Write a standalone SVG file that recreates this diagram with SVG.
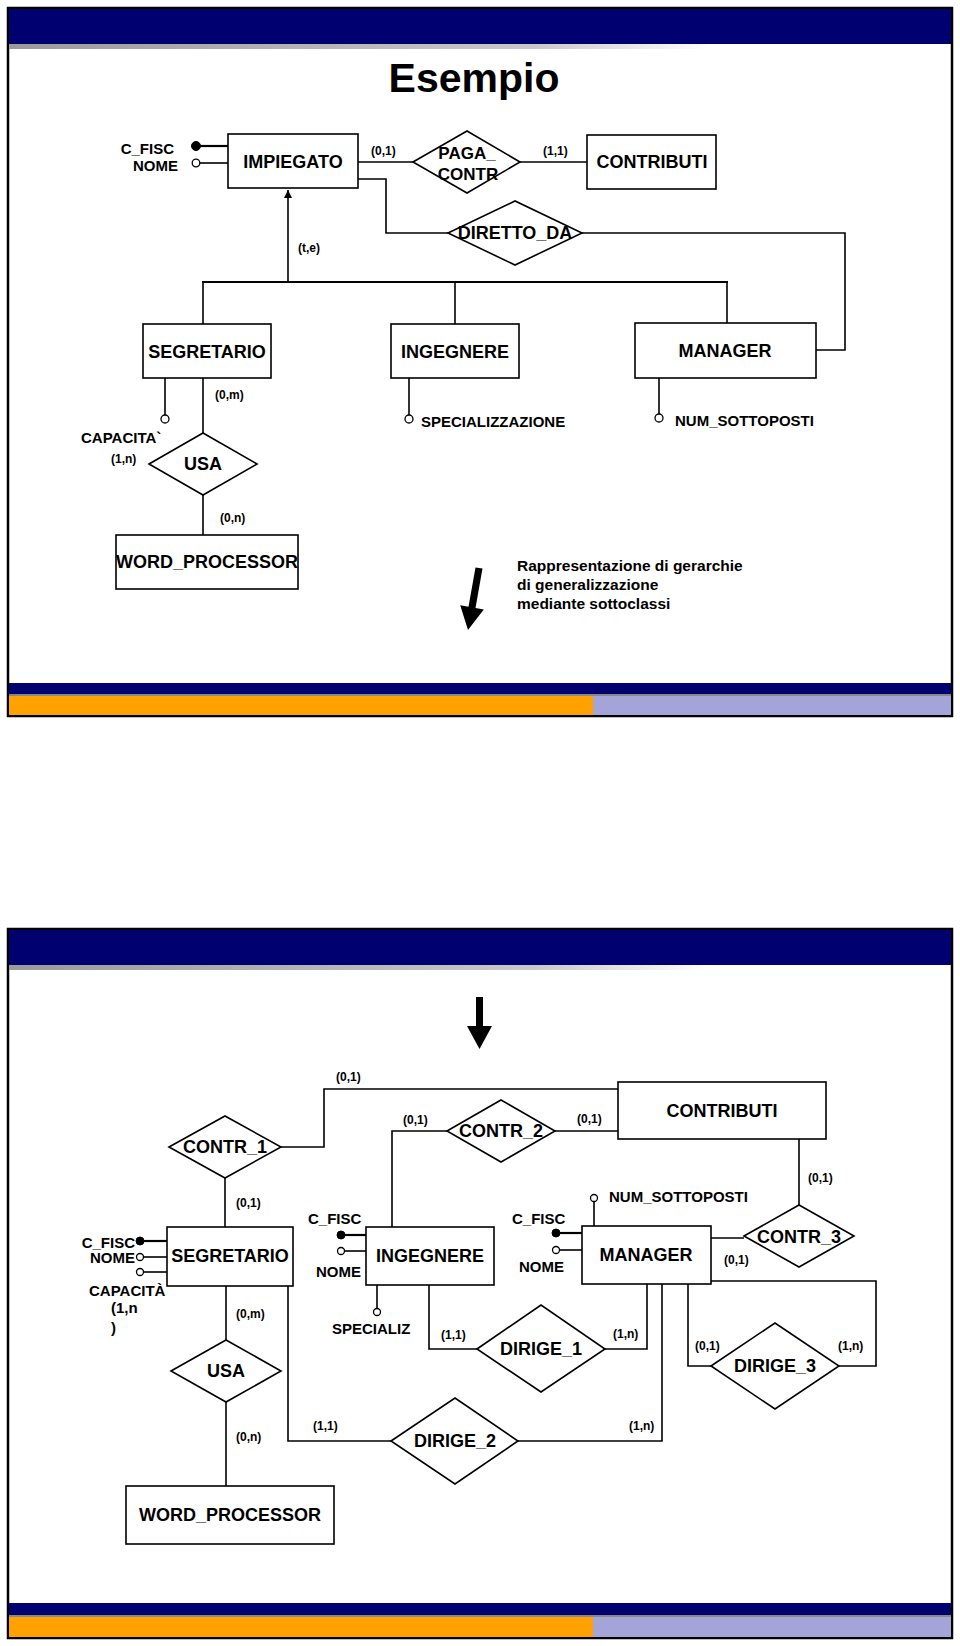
<svg xmlns="http://www.w3.org/2000/svg" width="960" height="1646" viewBox="0 0 960 1646">
<defs>
<style>
.frame{fill:#fff;stroke:#000;stroke-width:2.5}
.navy{fill:#000070}
.orange{fill:#ffa200}
.lav{fill:#a4a4d8}
.ent{fill:#fff;stroke:#000;stroke-width:1.6}
.rel{fill:#fff;stroke:#000;stroke-width:1.6}
.ln{fill:none;stroke:#000;stroke-width:1.6}
.lnb{fill:none;stroke:#000;stroke-width:2.2}
.dot{fill:#000;stroke:#000;stroke-width:1}
.hol{fill:#fff;stroke:#000;stroke-width:1.3}
text{font-family:"Liberation Sans",Arial,sans-serif;font-weight:bold;fill:#000}
.e{font-size:18px;text-anchor:middle}
.a{font-size:15px}
.c{font-size:12px}
.m{text-anchor:middle}
.r{text-anchor:end}
</style>
<linearGradient id="sh" x1="0" y1="0" x2="1" y2="0">
<stop offset="0" stop-color="#9a9a9a"/>
<stop offset="0.75" stop-color="#c8c8c8"/>
<stop offset="1" stop-color="#ffffff"/>
</linearGradient>
<marker id="ah" markerWidth="8" markerHeight="10" refX="8" refY="4" orient="auto" markerUnits="userSpaceOnUse">
<path d="M0,0 L8,4 L0,8 z" fill="#000"/>
</marker>
</defs>

<!-- ===== Slide 1 ===== -->
<g id="slide1-frame">
<rect class="frame" x="8" y="8" width="944" height="708"/>
<rect class="navy" x="9" y="9" width="942" height="35"/>
<rect x="9" y="44" width="700" height="5" fill="url(#sh)"/>
<rect class="navy" x="9" y="683" width="942" height="11"/>
<rect x="9" y="694" width="942" height="2" fill="#888"/>
<rect class="orange" x="9" y="696" width="584" height="19"/>
<rect class="lav" x="593" y="696" width="358" height="19"/>
<text x="474" y="92" font-size="41" class="m">Esempio</text>
</g>

<g id="s1-connectors">
<line class="ln" x1="358" y1="162" x2="413" y2="162"/>
<line class="ln" x1="520" y1="162" x2="587" y2="162"/>
<polyline class="ln" points="358,179 386,179 386,233 448,233"/>
<polyline class="ln" points="582,233 845,233 845,350 816,350"/>
<line class="ln" x1="288" y1="282" x2="288" y2="190" marker-end="url(#ah)"/>
<line class="lnb" x1="202" y1="282" x2="728" y2="282"/>
<line class="ln" x1="203" y1="282" x2="203" y2="324"/>
<line class="ln" x1="455" y1="282" x2="455" y2="324"/>
<line class="ln" x1="727" y1="282" x2="727" y2="323"/>
<line class="ln" x1="203" y1="378" x2="203" y2="433"/>
<line class="ln" x1="203" y1="495" x2="203" y2="535"/>
<text class="c" x="371" y="155">(0,1)</text>
<text class="c" x="543" y="155">(1,1)</text>
<text class="c" x="298" y="252">(t,e)</text>
<text class="c" x="215" y="399">(0,m)</text>
<text class="c" x="111" y="463">(1,n)</text>
<text class="c" x="220" y="522">(0,n)</text>
</g>

<g id="s1-impiegato">
<rect class="ent" x="228" y="134" width="130" height="54"/>
<text class="e" x="293" y="168">IMPIEGATO</text>
<line class="lnb" x1="200" y1="146" x2="228" y2="146"/>
<circle class="dot" cx="196" cy="146" r="4.5"/>
<line class="ln" x1="200" y1="163" x2="228" y2="163"/>
<circle class="hol" cx="196" cy="163" r="3.8"/>
<text class="a r" x="174" y="154">C_FISC</text>
<text class="a r" x="178" y="171">NOME</text>
</g>

<g id="s1-paga-contr">
<polygon class="rel" points="413,162 467,131 520,162 467,193"/>
<text x="467" y="159" font-size="17" class="m">PAGA_</text>
<text x="468" y="180" font-size="17" class="m">CONTR</text>
</g>

<g id="s1-contributi">
<rect class="ent" x="587" y="135" width="129" height="54"/>
<text class="e" x="652" y="168">CONTRIBUTI</text>
</g>

<g id="s1-diretto-da">
<polygon class="rel" points="448,233 515,201 582,233 515,265"/>
<text class="e" x="515" y="239">DIRETTO_DA</text>
</g>

<g id="s1-segretario">
<rect class="ent" x="143" y="324" width="128" height="54"/>
<text class="e" x="207" y="358">SEGRETARIO</text>
<line class="ln" x1="165" y1="378" x2="165" y2="415"/>
<circle class="hol" cx="165" cy="419" r="4"/>
<text class="a" x="81" y="443">CAPACITA`</text>
</g>

<g id="s1-ingegnere">
<rect class="ent" x="391" y="324" width="128" height="54"/>
<text class="e" x="455" y="358">INGEGNERE</text>
<line class="ln" x1="409" y1="378" x2="409" y2="415"/>
<circle class="hol" cx="409" cy="419" r="4"/>
<text class="a" x="421" y="427">SPECIALIZZAZIONE</text>
</g>

<g id="s1-manager">
<rect class="ent" x="635" y="323" width="181" height="55"/>
<text class="e" x="725" y="357">MANAGER</text>
<line class="ln" x1="659" y1="378" x2="659" y2="414"/>
<circle class="hol" cx="659" cy="418" r="4"/>
<text class="a" x="675" y="426">NUM_SOTTOPOSTI</text>
</g>

<g id="s1-usa">
<polygon class="rel" points="149,464 203,433 257,464 203,495"/>
<text class="e" x="203" y="470">USA</text>
</g>

<g id="s1-word-processor">
<rect class="ent" x="116" y="535" width="182" height="54"/>
<text class="e" x="207" y="568">WORD_PROCESSOR</text>
</g>

<g id="s1-note">
<polygon points="475.5,567.4 482.5,568.6 475.5,607.9 483.8,609.4 468,630 460.2,605.2 468.5,606.7" fill="#000"/>
<text x="517" y="571" font-size="15.5">Rappresentazione di gerarchie</text>
<text x="517" y="590" font-size="15.5">di generalizzazione</text>
<text x="517" y="609" font-size="15.5">mediante sottoclassi</text>
</g>

<!-- ===== Slide 2 ===== -->
<g id="slide2-frame">
<rect class="frame" x="8" y="929" width="944" height="709"/>
<rect class="navy" x="9" y="930" width="942" height="35"/>
<rect x="9" y="965" width="700" height="5" fill="url(#sh)"/>
<rect class="navy" x="9" y="1603" width="942" height="12"/>
<rect x="9" y="1615" width="942" height="2" fill="#888"/>
<rect class="orange" x="9" y="1617" width="584" height="20"/>
<rect class="lav" x="593" y="1617" width="358" height="20"/>
<rect x="476" y="997" width="7" height="30" fill="#000"/>
<polygon points="467,1026 492,1026 479.5,1049" fill="#000"/>
</g>

<g id="s2-connectors">
<polyline class="ln" points="281,1147 324,1147 324,1089 618,1089"/>
<line class="ln" x1="555" y1="1131" x2="618" y2="1131"/>
<polyline class="ln" points="447,1131 392,1131 392,1227"/>
<line class="ln" x1="799" y1="1139" x2="799" y2="1205"/>
<line class="ln" x1="711" y1="1238" x2="744" y2="1238"/>
<line class="ln" x1="225" y1="1178" x2="225" y2="1227"/>
<line class="ln" x1="226" y1="1286" x2="226" y2="1340"/>
<line class="ln" x1="226" y1="1402" x2="226" y2="1486"/>
<polyline class="ln" points="288,1286 288,1441 391,1441"/>
<polyline class="ln" points="518,1441 662,1441 662,1284"/>
<polyline class="ln" points="429,1285 429,1349 477,1349"/>
<polyline class="ln" points="605,1349 647,1349 647,1284"/>
<polyline class="ln" points="688,1284 688,1366 711,1366"/>
<polyline class="ln" points="711,1281 876,1281 876,1366 839,1366"/>
<text class="c" x="336" y="1081">(0,1)</text>
<text class="c" x="577" y="1123">(0,1)</text>
<text class="c" x="403" y="1124">(0,1)</text>
<text class="c" x="808" y="1182">(0,1)</text>
<text class="c" x="724" y="1264">(0,1)</text>
<text class="c" x="236" y="1207">(0,1)</text>
<text class="c" x="236" y="1318">(0,m)</text>
<text class="c" x="236" y="1441">(0,n)</text>
<text class="c" x="313" y="1430">(1,1)</text>
<text class="c" x="629" y="1430">(1,n)</text>
<text class="c" x="441" y="1339">(1,1)</text>
<text class="c" x="613" y="1338">(1,n)</text>
<text class="c" x="695" y="1350">(0,1)</text>
<text class="c" x="838" y="1350">(1,n)</text>
<text class="a" x="111" y="1313">(1,n</text>
<text class="a" x="111" y="1333">)</text>
</g>

<g id="s2-contr-1">
<polygon class="rel" points="169,1147 225,1116 281,1147 225,1178"/>
<text class="e" x="225" y="1153">CONTR_1</text>
</g>

<g id="s2-contributi">
<rect class="ent" x="618" y="1082" width="208" height="57"/>
<text class="e" x="722" y="1117">CONTRIBUTI</text>
</g>

<g id="s2-contr-2">
<polygon class="rel" points="447,1131 501,1100 555,1131 501,1162"/>
<text class="e" x="501" y="1137">CONTR_2</text>
</g>

<g id="s2-contr-3">
<polygon class="rel" points="744,1236 799,1205 854,1236 799,1267"/>
<text class="e" x="799" y="1243">CONTR_3</text>
</g>

<g id="s2-segretario">
<rect class="ent" x="167" y="1227" width="126" height="59"/>
<text class="e" x="230" y="1262">SEGRETARIO</text>
<line class="lnb" x1="144" y1="1241" x2="167" y2="1241"/>
<circle class="dot" cx="140" cy="1241" r="4"/>
<line class="ln" x1="144" y1="1257" x2="167" y2="1257"/>
<circle class="hol" cx="140" cy="1257" r="3.5"/>
<line class="ln" x1="144" y1="1272" x2="167" y2="1272"/>
<circle class="hol" cx="140" cy="1272" r="3.5"/>
<text class="a r" x="135" y="1248">C_FISC</text>
<text class="a r" x="135" y="1263">NOME</text>
<text class="a" x="89" y="1296">CAPACITÀ</text>
</g>

<g id="s2-usa">
<polygon class="rel" points="171,1371 226,1340 281,1371 226,1402"/>
<text class="e" x="226" y="1377">USA</text>
</g>

<g id="s2-word-processor">
<rect class="ent" x="126" y="1486" width="208" height="58"/>
<text class="e" x="230" y="1521">WORD_PROCESSOR</text>
</g>

<g id="s2-ingegnere">
<rect class="ent" x="366" y="1227" width="128" height="58"/>
<text class="e" x="430" y="1262">INGEGNERE</text>
<line class="lnb" x1="345" y1="1235" x2="366" y2="1235"/>
<circle class="dot" cx="341" cy="1235" r="4"/>
<line class="ln" x1="345" y1="1251" x2="366" y2="1251"/>
<circle class="hol" cx="341" cy="1251" r="3.5"/>
<text class="a" x="308" y="1224">C_FISC</text>
<text class="a" x="316" y="1277">NOME</text>
<line class="ln" x1="377" y1="1285" x2="377" y2="1308"/>
<circle class="hol" cx="377" cy="1312" r="3.5"/>
<text class="a" x="332" y="1334">SPECIALIZ</text>
</g>

<g id="s2-manager">
<rect class="ent" x="582" y="1226" width="129" height="58"/>
<text class="e" x="646" y="1261">MANAGER</text>
<line class="ln" x1="594" y1="1226" x2="594" y2="1202"/>
<circle class="hol" cx="594" cy="1198" r="3.5"/>
<text class="a" x="609" y="1202">NUM_SOTTOPOSTI</text>
<line class="lnb" x1="560" y1="1233" x2="582" y2="1233"/>
<circle class="dot" cx="556" cy="1233" r="4"/>
<line class="ln" x1="560" y1="1250" x2="582" y2="1250"/>
<circle class="hol" cx="556" cy="1250" r="3.5"/>
<text class="a" x="512" y="1224">C_FISC</text>
<text class="a" x="519" y="1272">NOME</text>
</g>

<g id="s2-dirige-1">
<polygon class="rel" points="477,1349 541,1305 605,1349 541,1392"/>
<text class="e" x="541" y="1355">DIRIGE_1</text>
</g>

<g id="s2-dirige-2">
<polygon class="rel" points="391,1441 455,1398 518,1441 455,1484"/>
<text class="e" x="455" y="1447">DIRIGE_2</text>
</g>

<g id="s2-dirige-3">
<polygon class="rel" points="711,1366 775,1323 839,1366 775,1409"/>
<text class="e" x="775" y="1372">DIRIGE_3</text>
</g>
</svg>
